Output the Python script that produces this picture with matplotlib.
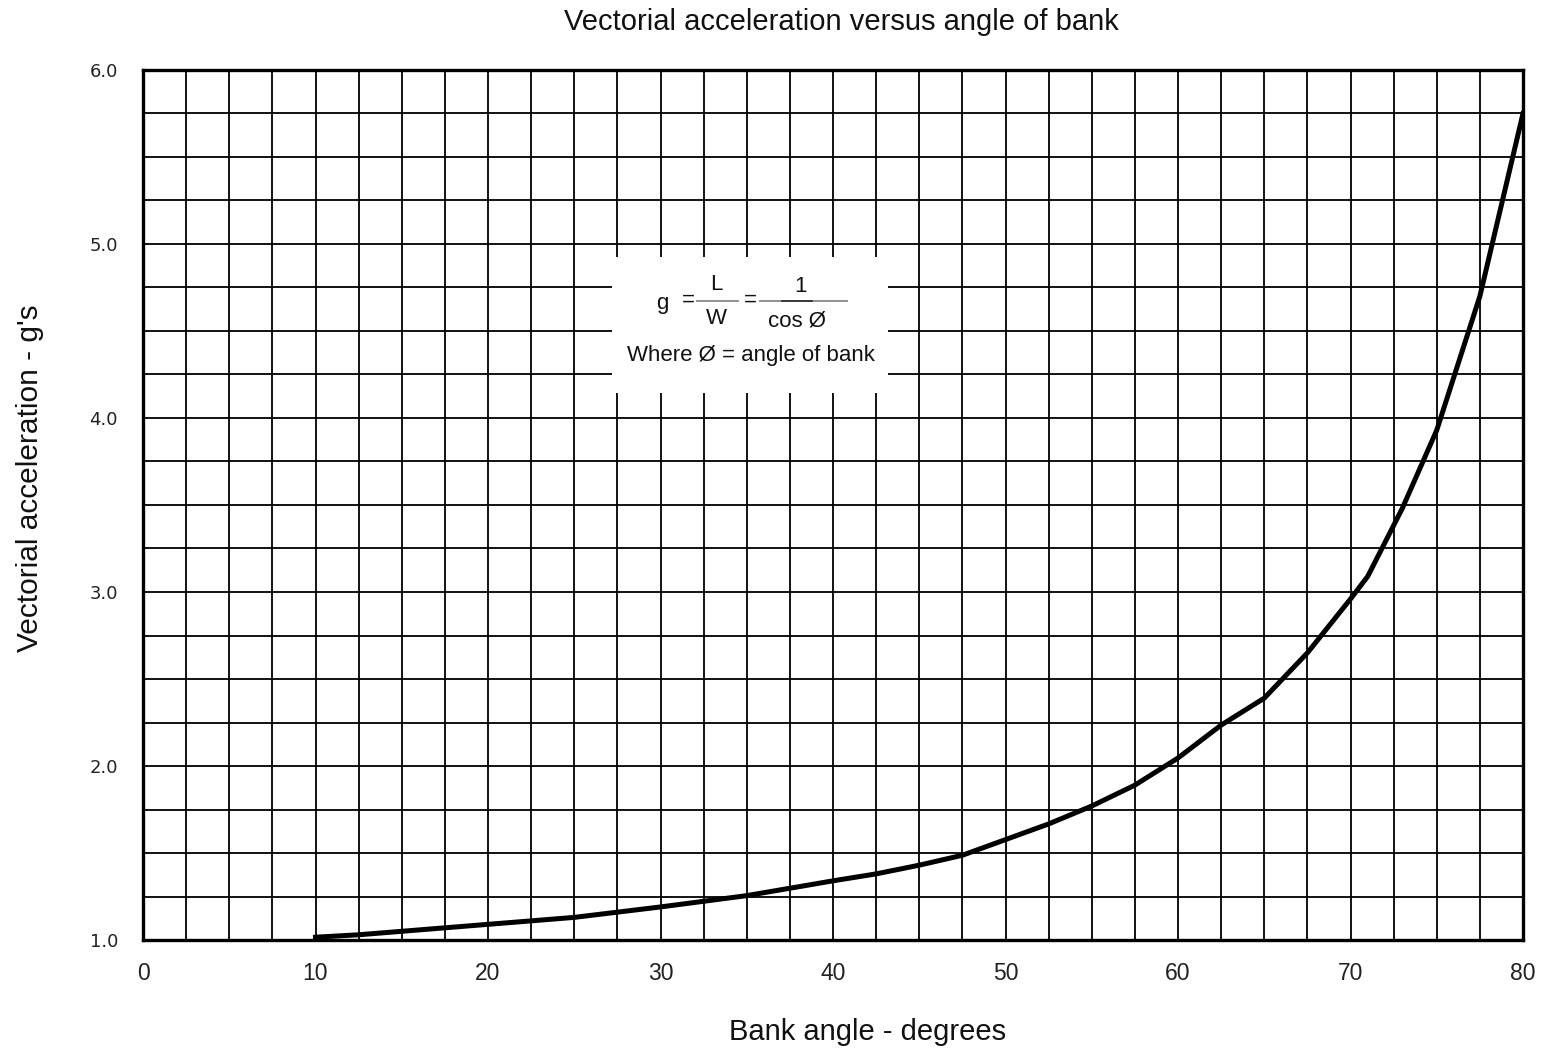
import matplotlib
matplotlib.use("Agg")
import matplotlib.pyplot as plt
import numpy as np
from matplotlib.lines import Line2D
from matplotlib.patches import Rectangle

plt.rcParams['font.family'] = ['Liberation Sans', 'DejaVu Sans']

# Data
bank_angle = [10, 12.5, 15, 17.5, 20, 22.5, 25, 27.5, 30, 35, 40, 42.5, 45,
              47.5, 50, 52.5, 55, 57.5, 60, 62.5, 65, 67.5, 70, 71, 73, 75,
              77.5, 80]
g_load = [1.016, 1.03, 1.05, 1.07, 1.09, 1.11, 1.13, 1.16, 1.19, 1.255, 1.34,
          1.38, 1.43, 1.487, 1.577, 1.667, 1.77, 1.89, 2.046, 2.235, 2.39,
          2.65, 2.96, 3.09, 3.48, 3.93, 4.70, 5.75]

x_ticks = [0, 10, 20, 30, 40, 50, 60, 70, 80]
y_ticks = [1.0, 2.0, 3.0, 4.0, 5.0, 6.0]
y_tick_labels = ["1.0", "2.0", "3.0", "4.0", "5.0", "6.0"]

W, H = 1541, 1049
fig = plt.figure(figsize=(W / 100, H / 100), dpi=100)
ax = fig.add_axes([143 / W, 1 - 940 / H, (1523 - 143) / W, (940 - 70) / H])

ax.set_xlim(0, 80)
ax.set_ylim(1.0, 6.0)

# grid
ax.set_xticks(np.arange(0, 80.01, 2.5), minor=True)
ax.set_yticks(np.arange(1.0, 6.01, 0.25), minor=True)
ax.grid(which='both', color='black', linewidth=1.3)
ax.set_axisbelow(True)

ax.set_xticks(x_ticks)
ax.set_xticklabels([str(t) for t in x_ticks], fontsize=16.5, color='#222222')
ax.set_yticks(y_ticks)
ax.set_yticklabels(y_tick_labels, fontsize=13, color='#222222',
                   family=['DejaVu Sans'])
ax.tick_params(which='both', length=0)
ax.tick_params(axis='x', pad=16)
ax.tick_params(axis='y', pad=18)

for s in ax.spines.values():
    s.set_linewidth(2.4)
    s.set_color('black')

# formula box (white area hiding grid)
box = Rectangle((612 / W, 1 - 393 / H), (888 - 612) / W, (393 - 257) / H,
                transform=fig.transFigure, facecolor='white', edgecolor='none',
                zorder=3)
fig.patches.append(box)

ax.plot(bank_angle, g_load, color='black', linewidth=3.6, zorder=4,
        solid_joinstyle='miter')

ax.set_xlabel("Bank angle - degrees", fontsize=21, color='#111111')
ax.xaxis.set_label_coords((868 - 143) / 1380, -(1032 - 940) / 870)
ax.xaxis.label.set_va('center')
ax.set_ylabel("Vectorial acceleration - g's", fontsize=21.5, color='#111111')
ax.yaxis.set_label_coords((30 - 143) / 1380, (940 - 478) / 870)
ax.yaxis.label.set_va('center')
fig.text(841 / W, 1 - 22 / H, "Vectorial acceleration versus angle of bank",
         ha='center', va='center', fontsize=21, color='#111111')

# formula text
fs = 16
def ft(x, y, s, **kw):
    fig.text(x / W, 1 - y / H, s, ha='center', va='center', fontsize=fs,
             color='#111111', zorder=5, **kw)

ft(662, 303, "g")
ft(688, 300, "=")
ft(716, 285, "L")
ft(716, 319, "W")
ft(750, 300, "=")
ft(800, 287, "1")
ft(797, 321, "cos Ø")
ft(751, 356, "Where Ø = angle of bank")
for (x0, x1) in [(697, 738), (760, 847)]:
    fig.lines.append(Line2D([x0 / W, x1 / W], [1 - 301 / H, 1 - 301 / H],
                            transform=fig.transFigure, color='#888888',
                            linewidth=1.3, zorder=5))
fig.lines.append(Line2D([782 / W, 812 / W], [1 - 301 / H, 1 - 301 / H],
                        transform=fig.transFigure, color='#333333',
                        linewidth=1.3, zorder=6))

fig.savefig("out.png", dpi=100, facecolor='white')
